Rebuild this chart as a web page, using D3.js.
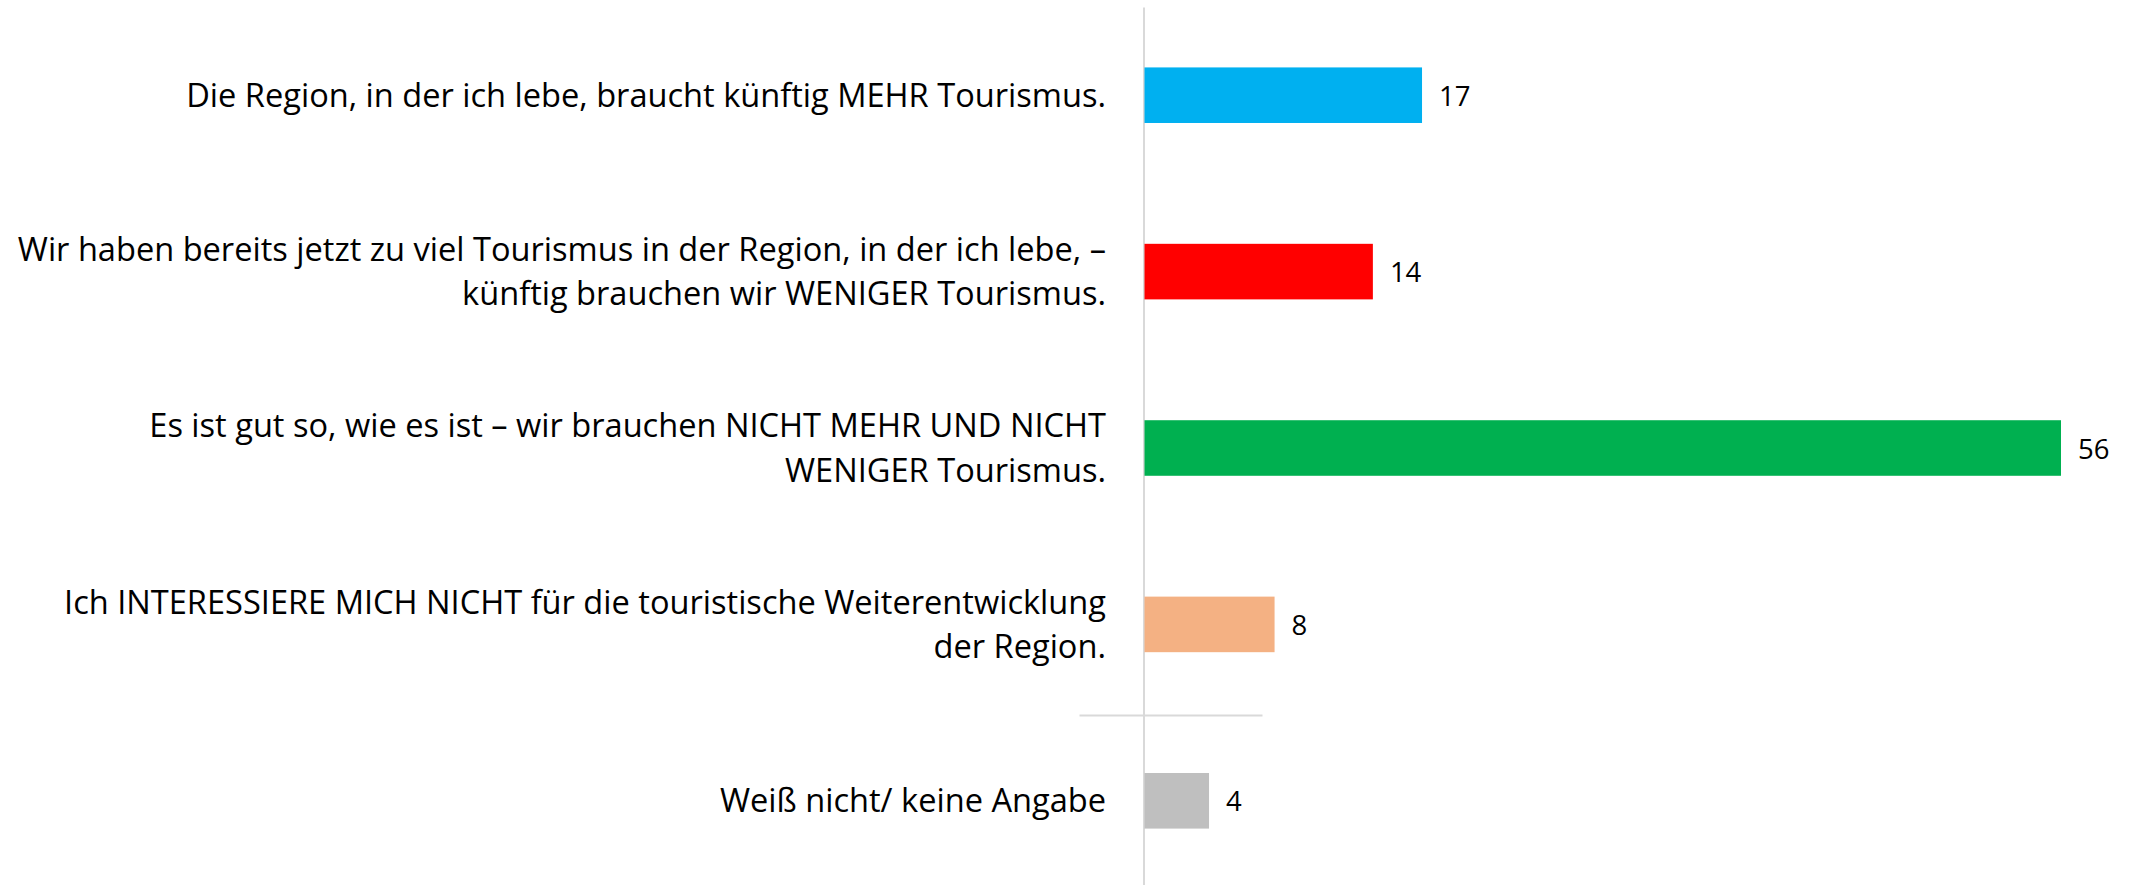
<!DOCTYPE html>
<html>
<head>
<meta charset="utf-8">
<script src="https://cdn.jsdelivr.net/npm/d3@7"></script>
<style>
  html, body { margin: 0; padding: 0; background: #fff; }
  svg text { font-family: "Open Sans", "Noto Sans", sans-serif; fill: #000; }
</style>
</head>
<body>
<div id="chart"></div>
<script>
var categories = ["mehr", "weniger", "gut", "egal", "wn"];
var labelLines = [
  ["Die Region, in der ich lebe, braucht künftig MEHR Tourismus."],
  ["Wir haben bereits jetzt zu viel Tourismus in der Region, in der ich lebe, –",
   "künftig brauchen wir WENIGER Tourismus."],
  ["Es ist gut so, wie es ist – wir brauchen NICHT MEHR UND NICHT",
   "WENIGER Tourismus."],
  ["Ich INTERESSIERE MICH NICHT für die touristische Weiterentwicklung",
   "der Region."],
  ["Weiß nicht/ keine Angabe"]
];
var values = [17, 14, 56, 8, 4];
var colors = ["#00B0F0", "#FF0000", "#00B050", "#F4B183", "#BFBFBF"];

var _width = 2129, _height = 885;
var x0 = 1143.5;

var svg = d3.select("#chart").append("svg")
  .attr("width", _width)
  .attr("height", _height);

var x = d3.scaleLinear()
  .domain([0, 56])
  .range([x0, 2061]);

var y = d3.scaleBand()
  .domain(categories)
  .range([7, 889])
  .paddingInner(0.685)
  .paddingOuter(0.3425);

// vertical axis line
var yAxis = d3.axisLeft(y).tickSize(0).tickFormat("");
var axisG = svg.append("g")
  .attr("class", "y axis")
  .attr("transform", "translate(" + x0 + ",0)")
  .call(yAxis);
axisG.select(".domain")
  .attr("stroke", "#d9d9d9")
  .attr("stroke-width", 2);

// separator between the answer block and "weiß nicht"
var sepY = (y("egal") + y.bandwidth() + y("wn")) / 2 + 3;
svg.append("line")
  .attr("x1", x0 - 64)
  .attr("x2", x0 + 119)
  .attr("y1", sepY)
  .attr("y2", sepY)
  .attr("stroke", "#d9d9d9")
  .attr("stroke-width", 2);

// bars
svg.selectAll("rect.bar")
  .data(values)
  .enter().append("rect")
  .attr("class", "bar")
  .attr("x", x(0) + 1)
  .attr("y", function (d, i) { return y(categories[i]); })
  .attr("width", function (d) { return x(d) - x(0) - 1; })
  .attr("height", y.bandwidth())
  .attr("fill", function (d, i) { return colors[i]; });

// value labels
svg.selectAll("text.value")
  .data(values)
  .enter().append("text")
  .attr("class", "value")
  .attr("x", function (d) { return x(d) + 17; })
  .attr("y", function (d, i) { return y(categories[i]) + y.bandwidth() / 2 + 10.5; })
  .style("font-size", "27.5px")
  .text(function (d) { return d; });

// category labels
var lineH = 44.5;
var labels = svg.selectAll("text.cat")
  .data(labelLines)
  .enter().append("text")
  .attr("class", "cat")
  .attr("text-anchor", "end")
  .style("font-size", "32.6px");

labels.each(function (lines, i) {
  var cy = y(categories[i]) + y.bandwidth() / 2;
  var first = cy + 11.5 - (lines.length - 1) * lineH / 2;
  d3.select(this).selectAll("tspan")
    .data(lines)
    .enter().append("tspan")
    .attr("x", 1106)
    .attr("y", function (d, j) { return first + j * lineH; })
    .text(function (d) { return d; });
});
</script>
</body>
</html>
